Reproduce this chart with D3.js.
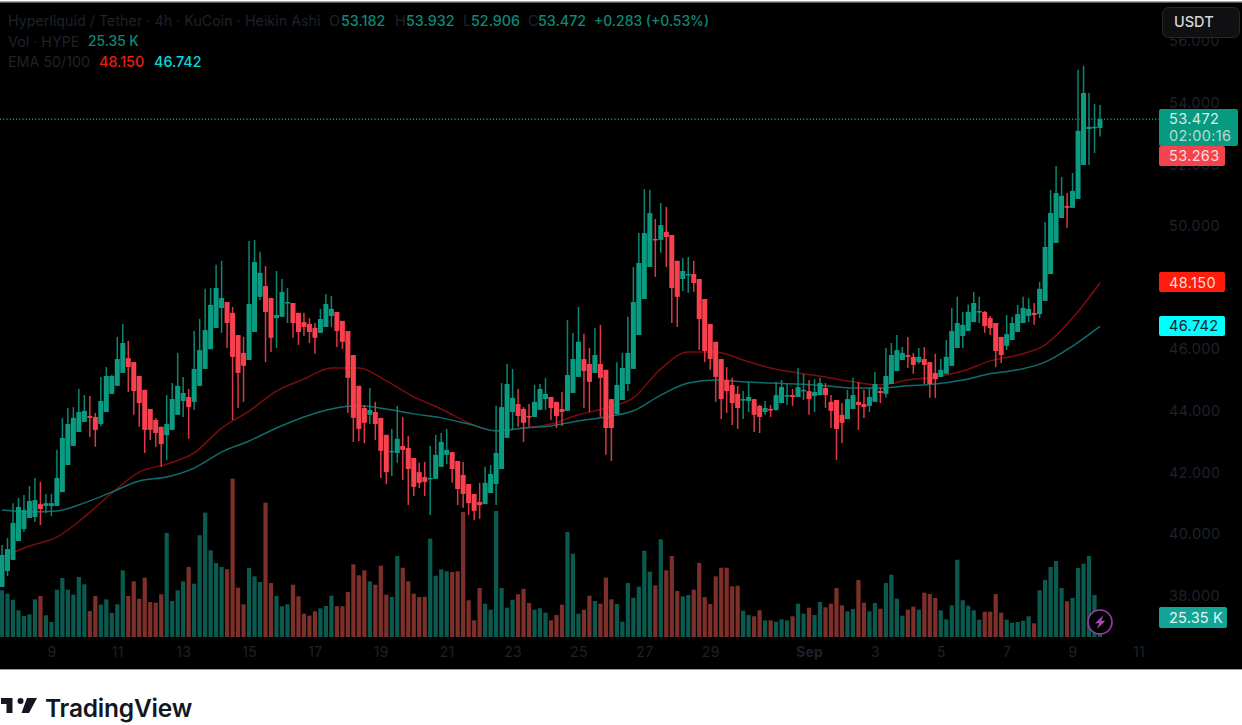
<!DOCTYPE html>
<html><head><meta charset="utf-8">
<script src="https://cdn.jsdelivr.net/npm/d3@7"></script>
<style>html,body{margin:0;padding:0;background:#fff;overflow:hidden}svg{display:block}text{font-family:Inter,Roboto,sans-serif}</style>
</head><body><svg id="c" width="1242" height="725"></svg>
<script>
const opens=[38.28,38.80,39.16,39.77,40.16,40.52,40.55,40.97,40.91,40.91,
40.91,41.36,42.24,42.86,43.31,43.64,43.83,43.80,43.57,43.96,
44.55,44.81,45.23,45.71,45.58,45.13,44.68,44.06,43.70,43.48,
43.21,43.38,43.87,44.32,44.45,44.29,44.81,45.36,46.00,46.69,
47.34,47.53,47.18,46.46,45.88,45.65,46.56,47.70,48.05,47.66,
47.01,47.05,47.50,47.50,47.18,46.88,46.82,46.69,46.53,46.72,
47.08,47.21,46.92,46.59,45.81,44.81,44.09,43.87,43.96,43.77,
43.22,42.66,42.63,42.86,42.79,42.47,42.01,41.85,41.79,41.79,
42.18,42.57,42.66,42.37,41.92,41.62,41.30,41.04,40.97,41.33,
41.62,42.11,43.12,43.96,44.22,44.06,43.83,43.80,44.03,44.38,
44.45,44.29,44.06,44.00,44.58,45.10,45.68,45.52,45.23,45.52,
45.33,44.38,43.90,44.35,44.87,45.36,46.46,47.63,48.67,49.58,
49.55,49.81,49.71,48.87,48.28,48.41,48.44,48.28,47.63,46.82,
46.24,45.68,45.00,44.84,44.55,44.35,44.32,44.38,44.16,43.96,
44.06,44.03,44.25,44.48,44.51,44.45,44.64,44.64,44.48,44.51,
44.74,44.29,44.35,43.87,43.73,44.06,44.29,44.22,44.16,44.29,
44.64,44.55,44.87,45.29,45.65,45.81,45.75,45.58,45.68,45.58,
45.23,45.10,45.20,45.46,46.04,46.43,46.59,46.88,47.21,47.21,
47.01,46.85,46.40,46.11,46.30,46.56,46.85,47.08,47.18,47.14,
47.57,48.44,49.45,50.26,50.65,50.59,50.88,51.98,53.15,53.18,53.182];
const closes=[39.32,39.51,40.36,40.88,40.78,41.07,41.10,40.81,41.00,41.00,
41.82,43.12,43.57,43.77,43.96,44.00,43.77,43.38,44.32,45.13,
45.13,45.68,46.20,45.42,44.64,44.25,43.38,43.38,43.28,42.92,
43.57,44.38,44.81,44.58,44.12,45.36,45.97,46.62,47.44,47.99,
47.66,46.85,45.75,45.23,45.46,47.47,48.83,48.48,47.21,46.37,
47.11,47.86,47.53,46.85,46.56,46.72,46.56,46.37,46.98,47.47,
47.31,46.59,46.24,45.07,43.77,43.41,43.61,44.03,43.57,42.70,
42.01,42.70,43.09,42.73,42.11,41.53,41.66,41.69,41.82,42.57,
42.99,42.73,42.11,41.46,41.30,41.00,40.75,40.94,41.66,41.95,
42.63,44.12,44.87,44.42,43.83,43.61,43.80,44.29,44.71,44.55,
44.09,43.83,43.96,45.16,45.68,46.24,45.29,44.94,45.81,45.07,
43.44,43.44,44.84,45.39,45.88,47.53,48.80,49.77,50.42,49.55,
50.03,49.64,47.99,47.70,48.54,48.44,48.15,46.98,45.94,45.68,
45.10,44.38,44.64,44.25,44.09,44.38,44.45,43.87,43.80,44.09,
44.03,44.51,44.77,44.51,44.45,44.77,44.68,44.38,44.61,44.90,
44.51,44.00,43.41,43.61,44.38,44.51,44.19,44.12,44.45,44.87,
44.58,45.13,45.81,45.97,45.88,45.75,45.49,45.75,45.49,44.87,
45.03,45.33,45.75,46.59,46.85,46.79,47.21,47.50,47.24,46.75,
46.69,45.94,45.81,46.49,46.85,47.14,47.34,47.31,47.11,47.96,
49.32,50.42,51.07,50.98,50.59,51.14,53.09,54.32,53.22,53.22,53.472];
const highs=[39.64,39.87,41.00,41.17,41.27,41.56,41.82,41.69,41.30,41.30,
42.73,43.77,44.09,44.12,44.71,44.51,44.48,43.93,45.10,45.42,
45.16,46.40,46.82,46.27,45.58,45.13,44.68,44.06,43.77,43.48,
44.51,44.90,45.88,45.10,44.71,46.59,46.98,47.96,47.99,48.74,
48.87,47.53,47.37,46.46,46.40,49.51,49.55,49.16,48.70,47.66,
48.54,48.28,47.99,47.50,47.18,47.18,47.01,46.85,47.31,47.79,
47.73,47.21,46.92,46.59,45.81,44.81,44.19,44.74,44.29,43.77,
43.22,43.41,44.16,43.80,43.18,42.47,42.31,42.34,42.86,43.22,
43.28,43.41,42.66,42.37,42.34,41.62,41.30,41.66,42.18,42.24,
44.16,44.90,45.52,45.36,44.71,44.12,44.22,44.84,44.87,45.07,
44.45,44.29,44.61,46.95,46.53,47.37,46.50,46.04,46.69,46.79,
45.33,44.38,45.58,45.88,47.05,48.67,49.77,51.20,51.17,50.23,
50.75,50.62,49.71,48.87,48.96,49.00,48.87,48.28,47.63,46.82,
46.24,45.68,45.42,45.07,44.81,44.64,44.94,44.38,44.19,44.32,
44.19,44.94,45.00,44.87,44.71,45.39,45.20,45.00,45.03,45.07,
44.90,44.51,44.35,44.25,44.68,45.07,44.94,44.68,44.74,45.26,
44.77,46.04,46.20,46.46,46.07,46.40,45.88,46.04,46.07,45.58,
45.85,45.68,46.30,47.34,47.70,47.21,47.44,47.86,47.70,47.24,
47.08,46.85,46.40,47.11,47.05,47.44,47.70,47.66,47.50,48.18,
50.13,51.17,51.95,51.59,51.07,51.72,55.07,55.20,54.32,53.96,53.932];
const lows=[38.28,38.64,39.16,39.77,40.07,40.52,40.39,40.29,40.68,40.58,
40.91,41.36,42.24,42.86,43.31,43.64,43.15,42.83,43.51,43.96,
44.55,44.81,45.23,44.61,43.87,43.48,42.63,43.05,42.83,42.18,
42.40,43.38,43.87,43.80,43.09,44.03,44.81,45.36,46.00,46.69,
46.53,46.04,43.70,44.09,44.29,45.65,46.56,47.60,45.58,45.91,
46.04,47.05,46.85,46.37,46.14,46.43,46.20,45.85,46.53,46.72,
46.72,46.07,46.01,43.93,42.99,43.02,42.95,43.57,43.05,41.82,
41.62,41.88,42.31,41.75,40.94,41.23,41.49,41.23,40.62,41.79,
42.18,42.27,41.66,40.94,40.85,40.62,40.45,40.49,40.97,41.33,
40.94,42.11,43.12,43.38,43.48,42.99,43.48,43.80,44.03,44.03,
43.70,43.44,43.51,44.00,44.58,45.10,44.09,43.96,45.23,43.80,
42.57,42.37,43.90,44.35,44.64,45.36,46.46,47.63,48.67,48.35,
49.13,48.67,46.85,46.72,47.89,47.83,47.86,45.97,45.58,45.33,
44.29,43.73,43.93,43.54,43.41,43.73,43.96,43.31,43.28,43.87,
43.80,44.00,44.25,44.19,44.16,44.45,44.35,43.87,43.96,44.51,
44.09,43.44,42.40,42.95,43.73,44.06,43.38,43.77,43.96,44.29,
44.25,44.42,44.87,45.29,45.65,45.39,45.20,45.52,44.87,44.42,
44.42,45.10,45.20,45.46,46.04,46.04,46.59,46.88,46.85,46.53,
46.46,45.42,45.55,45.97,46.30,46.56,46.85,46.88,46.79,47.01,
47.57,48.44,49.45,50.26,49.94,50.59,50.88,51.98,51.98,52.37,52.906];
const volumes=[59.1,54.8,47.2,33.8,26.6,28.7,47.7,51.9,27.5,19,
59.9,74.7,59.9,53.6,76,66.7,32.9,51.9,40.9,47.7,
30.4,41.4,84.4,51.9,70.5,48.5,75.1,44.3,43.4,54.1,
131.7,45.6,59.1,70.5,88.6,67.5,128.8,157.4,109.8,93.7,
88.6,85.7,200.4,62.4,41.4,87.4,76.8,69.6,170,68.4,
51.9,38.9,41.4,66.2,51.5,29.5,27,32.5,36.3,39.2,
52.3,38.9,38.9,57,92,78.1,84.4,70.5,66.2,90.3,
53.6,50.6,102.5,87.7,70.5,54.8,50.6,51,124.4,77.6,
85.7,83.2,82.3,83.2,158.2,46.5,21.1,62,42.2,34.6,
159.5,62,37.1,47.2,54.1,61.1,43,34.6,36.3,30.8,
21.1,27.8,40.9,132.9,105.4,29.5,34.6,52.3,45.6,42.2,
75.1,47.7,41.8,19.4,68.4,49.7,63.7,109.2,82.7,65.4,
123.7,84.4,102.5,58.2,51.5,53.2,59.9,93.7,50.6,41.8,
76.8,87.7,87.7,64.2,64.9,33.3,27.8,26.2,33.8,21.1,
21.1,19.4,22.4,21.1,26.2,42.2,29.5,37.1,27.8,44.3,
37.6,42.2,62,40.1,32.5,35.4,72.2,43.4,32.5,43,
35.8,68.4,78.9,48.5,27,34.6,38.4,34.6,56.1,54.4,
49.4,33.8,22.4,40.1,97.8,46.5,39.6,33.8,21.9,32,
32,54.4,30.8,21.9,18.1,19,20.6,26.2,17.3,59.1,
72.2,88.6,96.2,62,45.2,49.4,87.4,92.8,102.5,53.2,25.35];
const emaStep=5;
const ema50=[39.25,39.61,39.90,40.55,41.33,42.01,42.27,42.63,43.44,43.99,44.64,45.03,45.39,45.39,44.97,44.45,44.06,43.61,43.35,43.44,43.57,43.87,44.09,44.42,45.36,45.91,45.91,45.65,45.39,45.23,45.10,44.94,44.84,45.00,45.10,45.29,45.62,45.81,46.14,47.01,48.15];
const ema100=[40.78,40.72,40.75,41.01,41.36,41.72,41.85,42.14,42.66,43.02,43.44,43.80,44.06,44.16,44.06,43.90,43.77,43.57,43.35,43.44,43.51,43.67,43.80,44.00,44.51,44.90,45.00,44.94,44.90,44.87,44.81,44.74,44.74,44.81,44.87,45.00,45.20,45.33,45.58,46.10,46.742];
const priceTicks=[56,54,52,50,46,44,42,40,38];
const dateTickIndex=[9,21,33,45,57,69,81,93,105,117,129,147,159,171,183,195,207];
const dateTickLabels=["9","11","13","15","17","19","21","23","25","27","29","Sep","3","5","7","9","11"];

const GREEN="#0a9c82",RED="#f9404e",VGREEN="#0b5a50",VRED="#7d2f2a",DIM="#1e222a";
const svg=d3.select("#c");
svg.append("rect").attr("x",0).attr("y",2).attr("width",1242).attr("height",667.5).attr("fill","#000");
svg.append("rect").attr("x",0).attr("y",1).attr("width",1242).attr("height",1.5).attr("fill","#aaa");
svg.append("rect").attr("x",0).attr("y",669).attr("width",1242).attr("height",1).attr("fill","#999");

const x=d3.scaleLinear().domain([0,200]).range([2,1100]);
const y=d3.scaleLinear().domain([50,38]).range([226,595.6]);
const v=d3.scaleLinear().domain([0,200]).range([637,479]);
const candles=opens.map((o,i)=>({i,o,c:closes[i],h:highs[i],l:lows[i],vol:volumes[i],up:closes[i]>=o}));

// axes
const yAxis=d3.axisRight(y).tickValues(priceTicks).tickFormat(d3.format(".3f")).tickSize(0).tickPadding(0);
const gy=svg.append("g").attr("transform","translate(1169,0)").call(yAxis);
gy.select(".domain").remove();
gy.selectAll("text").attr("fill",DIM).attr("font-size",14.5).attr("letter-spacing",.35);
const xAxis=d3.axisBottom(x).tickValues(dateTickIndex).tickFormat((d,i)=>dateTickLabels[i]).tickSize(0).tickPadding(0);
const gx=svg.append("g").attr("transform","translate(0,647)").call(xAxis);
gx.select(".domain").remove();
gx.selectAll("text").attr("fill",DIM).attr("font-size",14).attr("font-weight",(d,i)=>dateTickLabels[i]==="Sep"?700:400).attr("letter-spacing",.3);

// volume
svg.append("g").selectAll("rect").data(candles).join("rect")
 .attr("x",d=>x(d.i)-2.1).attr("width",4.2).attr("y",d=>v(d.vol)).attr("height",d=>v(0)-v(d.vol))
 .attr("fill",d=>d.up?VGREEN:VRED);

// price line
svg.append("line").attr("x1",0).attr("x2",1159).attr("y1",y(closes[200])).attr("y2",y(closes[200]))
 .attr("stroke","#10b096").attr("stroke-dasharray","1.2 2").attr("stroke-width",1.2);

// EMA
const ln=d3.line().x((d,i)=>x(i*emaStep)).y(d=>y(d)).curve(d3.curveMonotoneX);
svg.append("path").attr("d",ln(ema50)).attr("fill","none").attr("stroke","#7d0c0c").attr("stroke-width",1.5);
svg.append("path").attr("d",ln(ema100)).attr("fill","none").attr("stroke","#0d6e6c").attr("stroke-width",1.5);

// candles
const gc=svg.append("g");
gc.selectAll("line").data(candles).join("line")
 .attr("x1",d=>x(d.i)).attr("x2",d=>x(d.i)).attr("y1",d=>y(d.h)).attr("y2",d=>y(d.l))
 .attr("stroke",d=>d.up?"#0b8672":"#d93a46").attr("stroke-width",1.5);
gc.selectAll("rect").data(candles).join("rect")
 .attr("x",d=>x(d.i)-2.5).attr("width",5)
 .attr("y",d=>y(Math.max(d.o,d.c))).attr("height",d=>Math.max(1.5,Math.abs(y(d.o)-y(d.c))))
 .attr("fill",d=>d.up?GREEN:RED);

// legend
const T=(s,xp,yp,fill,size,extra)=>{const t=svg.append("text").attr("x",xp).attr("y",yp).attr("dy","0.35em").attr("fill",fill).attr("font-size",size||14).text(s);if(extra)extra(t);return t;};
T("Hyperliquid / Tether · 4h · KuCoin · Heikin Ashi",8,21,DIM,14.3);
[["O",329],["H",395],["L",463],["C",528]].forEach(a=>T(a[0],a[1],21,DIM,14.5));
[["53.182",341],["53.932",406],["52.906",471],["53.472",538]].forEach(a=>T(a[0],a[1],21,"#0a8a78",14.3,t=>t.attr("font-weight",500)));
T("+0.283 (+0.53%)",594,21,"#0a8a78",13.9,t=>t.attr("font-weight",500));
T("Vol · HYPE",8,41.5,DIM,14.3);
T("25.35 K",88,41.5,"#0a8a78",13.8,t=>t.attr("font-weight",500));
T("EMA 50/100",8,62,DIM,14.3);
T("48.150",99,62,"#ec1c10",14.3,t=>t.attr("font-weight",500));
T("46.742",154,62,"#00dcdc",14.3,t=>t.attr("font-weight",500));

// right-hand tags
const tag=(x0,y0,w,h,fill)=>svg.append("rect").attr("x",x0).attr("y",y0).attr("width",w).attr("height",h).attr("rx",2).attr("fill",fill);
tag(1159,109,79,37,"#089981");
T("53.472",1169,118.5,"#d6ece8",14.5,t=>t.attr("letter-spacing",.35));
T("02:00:16",1169,135.5,"#b4dcd4",14.5,t=>t.attr("letter-spacing",.35));
tag(1159,146,66,20,"#f4434f");
T("53.263",1169,156,"#fbdcdc",14.5,t=>t.attr("letter-spacing",.35));
tag(1159,272,66,20,"#ff1c0c");
T("48.150",1169,282.5,"#ffd8d0",14.5,t=>t.attr("letter-spacing",.35));
tag(1159,316,66,20,"#00ffff");
T("46.742",1169,326,"#0a2a30",14.5,t=>t.attr("letter-spacing",.35));
tag(1159,607,68,21,"#12a494");
T("25.35 K",1169,618,"#e4f4f2",14.5,t=>t.attr("letter-spacing",.2));

// USDT button
svg.append("rect").attr("x",1162.5).attr("y",7.5).attr("width",77).attr("height",30).attr("rx",6).attr("fill","#101012").attr("stroke","#26282c");
T("USDT",1174,22,"#d4d4d4",14.5,t=>t.attr("font-weight",500));

// lightning icon
svg.append("circle").attr("cx",1100).attr("cy",622).attr("r",12).attr("fill","#000").attr("stroke","#9c3fa8").attr("stroke-width",1.6);
svg.append("path").attr("transform","translate(1100,622)").attr("d","M3.5,-7 L-5,1.2 L-0.8,1.2 L-3,7 L5.5,-1.2 L1.2,-1.2 Z").attr("fill","#a848b8");

// footer logo
const logo=svg.append("g").attr("fill","#131722");
logo.append("path").attr("d","M1,698 H12.5 V713 H6.5 V704 H1 Z");
logo.append("circle").attr("cx",20.5).attr("cy",701).attr("r",3);
logo.append("path").attr("d","M27,698 H37 L29,713 H21.5 Z");
T("TradingView",45,708,"#131722",24.5,t=>t.attr("font-weight",600).attr("letter-spacing",-.2));
</script></body></html>
